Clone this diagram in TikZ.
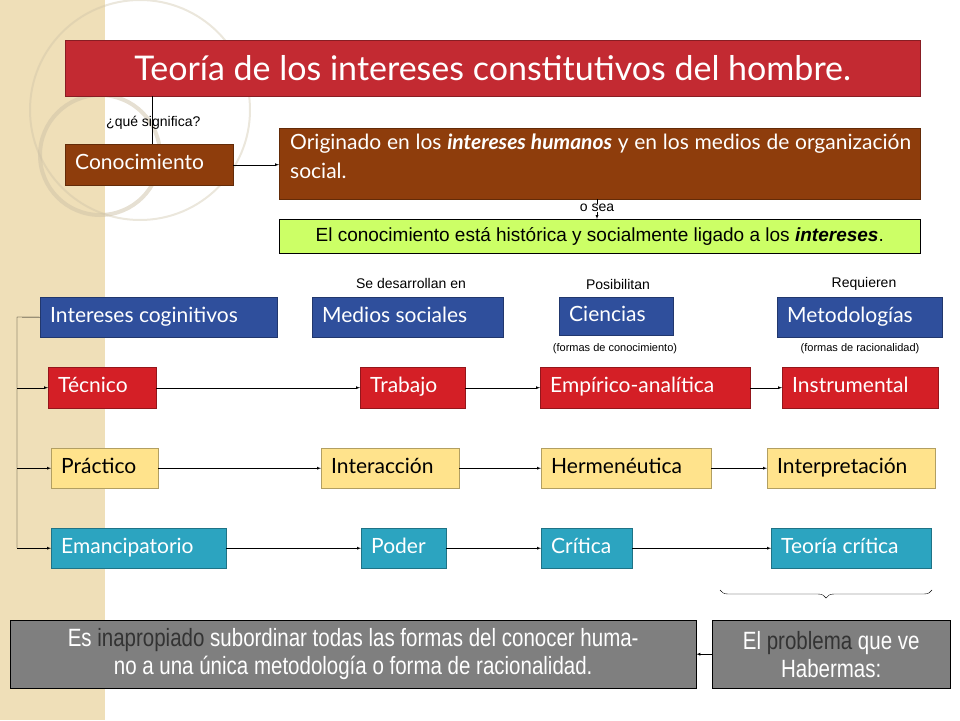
\documentclass[tikz,border=0pt]{standalone}
\usepackage{fontspec}
\setmainfont{Lato}
\newfontfamily\arialfont{Liberation Sans}
\newfontfamily\narrowfont[FakeStretch=0.82]{Liberation Sans}
\usetikzlibrary{positioning, calc, decorations.pathreplacing}
\definecolor{titlered}{HTML}{C32A32}
\definecolor{brownbox}{HTML}{8E3D0C}
\definecolor{greenbox}{HTML}{CCFF66}
\definecolor{bluebox}{HTML}{2F4F9C}
\definecolor{redbox}{HTML}{D41F26}
\definecolor{yellowbox}{HTML}{FFE38C}
\definecolor{tealbox}{HTML}{2CA4C0}
\definecolor{graybox}{HTML}{7F7F7F}
\definecolor{beige}{HTML}{EFDFB8}
\tikzset{
  box/.style={draw=#1!70!black, fill=#1, inner sep=0pt, anchor=north west, text=white},
  boxtext/.style={anchor=west, inner sep=0pt, text height=14pt, text depth=4pt, font=\fontsize{21}{24}\selectfont, text=white},
  lbl/.style={font=\arialfont\fontsize{14}{16}\selectfont, inner sep=0pt},
  small/.style={font=\arialfont\fontsize{11}{13}\selectfont, inner sep=0pt},
  conn/.style={-latex, thin}
}
\newcommand{\boxat}[7]{% name, colour, x1, y1, x2, y2, text
  \node[box=#2, minimum width={#5-#3}, minimum height={#6-#4}] (#1) at (#3,#4) {};
  \node[boxtext] at ($(#1.west)+(10,0)$) {#7};}
\begin{document}
\begin{tikzpicture}[x=1pt, y=-1pt]
\useasboundingbox (0,0) rectangle (960,720);
% background
\fill[beige] (0,0) rectangle (105,720);
\draw[beige!70!gray, line width=4pt, opacity=0.5] (100,155) circle[radius=60];
\draw[beige!70!gray, line width=2pt, opacity=0.4] (140,110) circle[radius=110];

% title
\node[box=titlered, minimum width=855, minimum height=56] (title) at (65,40) {};
\node[text=white, font=\fontsize{34}{38}\selectfont] at (title.center) {Teoría de los intereses constitutivos del hombre.};

% conocimiento
\boxat{conoc}{brownbox}{65}{144}{233}{185}{Conocimiento}
\draw (152,96) -- (152,144);
\node[lbl, anchor=west] at (106,123) {¿qué significa?};

\node[box=brownbox, minimum width=641, minimum height=71] (orig) at (279,128) {};
\node[text=white, anchor=north west, inner sep=0pt, text width=621, align=justify, font=\fontsize{21}{29}\selectfont] at (290,134) {Originado en los \textbf{\textit{intereses humanos}} y en los medios de organización social.};
\draw[conn] (conoc.east) -- (conoc.east -| orig.west);

\node[box=greenbox, draw=black, minimum width=641, minimum height=34] (ligado) at (279,219) {};
\node[text=black, font=\arialfont\fontsize{19}{22}\selectfont] at (ligado.center) {El conocimiento está histórica y socialmente ligado a los \textbf{\textit{intereses}}.};
\draw[conn] (597,199) -- (597,219);
\node[lbl, fill=white] at (597,208) {o sea};

% header row
\boxat{intereses}{bluebox}{40}{297}{277}{337}{Intereses coginitivos}
\boxat{medios}{bluebox}{312}{297}{503}{337}{Medios sociales}
\boxat{ciencias}{bluebox}{559}{297}{673}{335}{Ciencias}
\boxat{metodo}{bluebox}{777}{297}{942}{337}{Metodologías}

\node[lbl] at (411,283) {Se desarrollan en};
\node[lbl] at (618,284) {Posibilitan};
\node[lbl] at (864,284) {Requieren};
\node[small] at (615,349) {(formas de conocimiento)};
\node[small] at (860,349) {(formas de racionalidad)};

% rows
\boxat{tecnico}{redbox}{48}{367}{156}{408}{Técnico}
\boxat{trabajo}{redbox}{360}{367}{465}{408}{Trabajo}
\boxat{empirico}{redbox}{540}{367}{750}{408}{Empírico-analítica}
\boxat{instrum}{redbox}{782}{367}{938}{408}{Instrumental}

\boxat{practico}{yellowbox}{51}{448}{158}{488}{\color{black}Práctico}
\boxat{interac}{yellowbox}{321}{448}{459}{488}{\color{black}Interacción}
\boxat{hermen}{yellowbox}{541}{448}{711}{488}{\color{black}Hermenéutica}
\boxat{interp}{yellowbox}{767}{448}{935}{488}{\color{black}Interpretación}

\boxat{emanc}{tealbox}{51}{528}{226}{568}{Emancipatorio}
\boxat{poder}{tealbox}{361}{528}{446}{568}{Poder}
\boxat{critica}{tealbox}{541}{528}{632}{568}{Crítica}
\boxat{teoriac}{tealbox}{771}{528}{931}{568}{Teoría crítica}

\foreach \a/\b in {tecnico/trabajo, trabajo/empirico, empirico/instrum,
                   practico/interac, interac/hermen, hermen/interp,
                   emanc/poder, poder/critica, critica/teoriac}
  \draw[conn] (\a.east) -- (\b.west);

% left bracket
\coordinate (rail) at (17,317);
\draw (intereses.west) -- (rail) -- (rail |- emanc.west);
\foreach \n in {tecnico, practico, emanc}
  \draw[conn] (rail |- \n.west) -- (\n.west);

% brace
\draw[decorate, decoration={brace, amplitude=8pt, mirror}] (720,590) -- (932,590);

% bottom
\node[box=graybox, draw=black, minimum width=686, minimum height=68] (inapropiado) at (10,620) {};
\node[align=center, text=white, font=\narrowfont\fontsize{25}{28}\selectfont] at (inapropiado.center) {Es {\color{black!80}inapropiado} subordinar todas las formas del conocer huma-\\no a una única metodología o forma de racionalidad.};
\node[box=graybox, draw=black, minimum width=238, minimum height=68] (problema) at (712,620) {};
\node[align=center, text=white, font=\narrowfont\fontsize{25}{28}\selectfont] at (problema.center) {El {\color{black!80}problema} que ve\\Habermas:};
\draw[conn] (problema.west) -- (inapropiado.east);
\end{tikzpicture}
\end{document}
